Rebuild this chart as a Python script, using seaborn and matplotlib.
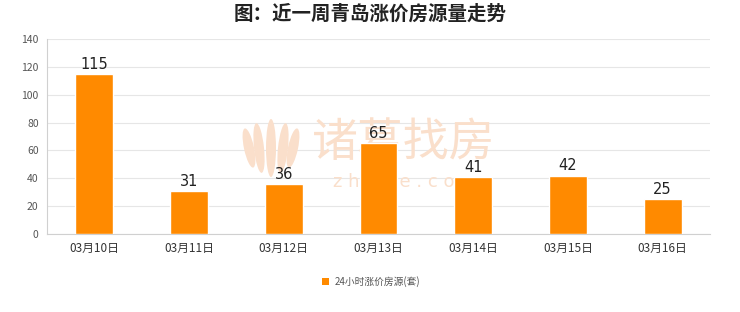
import matplotlib
matplotlib.use("Agg")
import matplotlib.pyplot as plt
import seaborn as sns
import pandas as pd
from matplotlib.patches import Rectangle, Ellipse

dates = ["03月10日", "03月11日", "03月12日", "03月13日", "03月14日", "03月15日", "03月16日"]
values = [115, 31, 36, 65, 41, 42, 25]
yticks = [0, 20, 40, 60, 80, 100, 120, 140]
title = "图：近一周青岛涨价房源量走势"
series_name = "24小时涨价房源(套)"

sns.set_theme(style="white")
plt.rcParams['font.family'] = ['Noto Sans CJK SC', 'DejaVu Sans']

df = pd.DataFrame({"date": dates, "value": values})

W, H = 740, 312
fig = plt.figure(figsize=(7.4, 3.12), dpi=100)
ax = fig.add_axes([47 / W, 1 - 234 / H, 663 / W, 195 / H])

bar_color = "#FF8A00"
sns.barplot(data=df, x="date", y="value", color=bar_color, width=0.4, ax=ax,
            saturation=1, zorder=3)

ax.set_ylim(0, 140)
ax.set_xlim(-0.5, len(dates) - 0.5)
ax.set_yticks(yticks)
ax.set_yticklabels([str(t) for t in yticks], fontsize=7.5, color="#555555")
ax.tick_params(axis="x", labelsize=8.5, colors="#333333", length=0, pad=6)
ax.tick_params(axis="y", length=0, pad=6)
ax.set_xlabel("")
ax.set_ylabel("")
ax.yaxis.grid(True, color="#E6E6E6", linewidth=0.8, zorder=0)
ax.set_axisbelow(True)
for s in ["top", "right"]:
    ax.spines[s].set_visible(False)
for s in ["left", "bottom"]:
    ax.spines[s].set_color("#D0D0D0")
    ax.spines[s].set_linewidth(0.8)

for i, v in enumerate(values):
    ax.text(i, v + 1.5, str(v), ha="center", va="bottom", fontsize=10.5,
            color="#222222", family="DejaVu Sans", zorder=5)

# watermark (behind bars)
wm = "#FADFCB"
ax.text(404 / W, 1 - 143 / H, "诸葛找房", fontsize=33, color=wm, ha="center",
        va="center", transform=fig.transFigure, zorder=1, fontweight="light")
ax.text(405 / W, 1 - 182 / H, "z h u g e . c o m", fontsize=13, color=wm,
        ha="center", va="center", transform=fig.transFigure, zorder=1,
        family="DejaVu Sans")
# lotus logo petals (pixel-based, in inches)
cx, cy = 271, 148
for dx, ang, h in [(-22, 12, 40), (-12, 6, 50), (0, 0, 58), (12, -6, 50), (22, -12, 40)]:
    e = Ellipse(((cx + dx) / 100, (H - cy) / 100), 10 / 100, h / 100, angle=ang,
                transform=fig.dpi_scale_trans, facecolor=wm, edgecolor="none", zorder=1)
    ax.add_artist(e)

fig.suptitle(title, fontsize=14, fontweight="bold", color="#222222", y=0.985)

# legend
fig.patches.append(Rectangle((0.435, 0.085), 0.010, 0.024, transform=fig.transFigure,
                             facecolor=bar_color, edgecolor="none", figure=fig))
fig.text(0.452, 0.097, series_name, fontsize=7, color="#555555", va="center", ha="left")

fig.savefig("out.png", dpi=100, facecolor="white")
